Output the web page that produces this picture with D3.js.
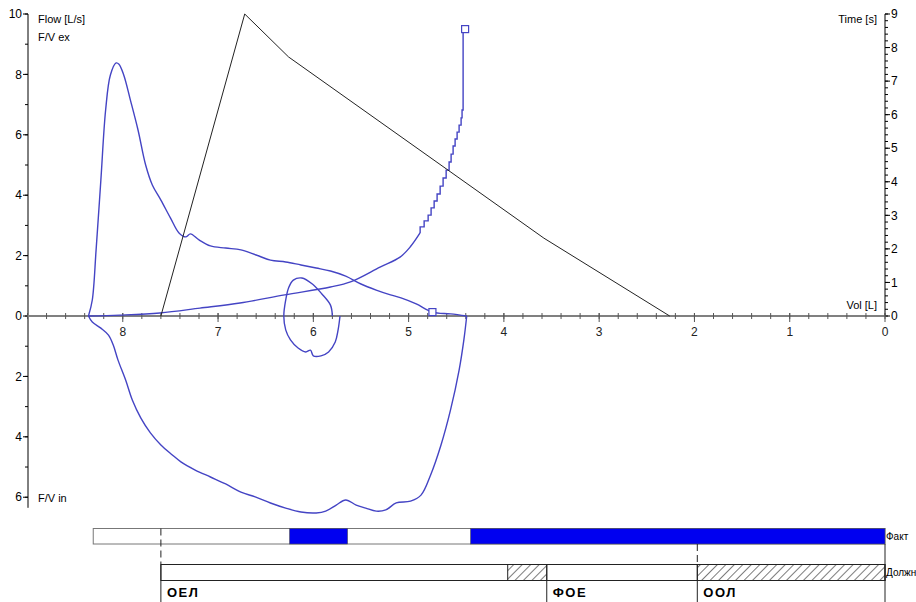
<!DOCTYPE html>
<html><head><meta charset="utf-8">
<script src="https://cdn.jsdelivr.net/npm/d3@7"></script>
<style>
html,body{margin:0;padding:0;background:#fff;}
svg{display:block;}
text{font-family:"Liberation Sans",Arial,sans-serif;}
</style></head>
<body>
<script>
// ---------- data (volume in L, flow in L/s, time in s) ----------
const expVol  = [8.36,8.32,8.28,8.23,8.18,8.13,8.07,8.04,7.99,7.92,7.84,7.76,7.69,7.60,7.50,7.41,7.34,7.29,7.20,7.08,6.92,6.76,6.60,6.45,6.29,6.13,5.97,5.82,5.66,5.50,5.34,5.19,5.08,4.92,4.75,4.56,4.39];
const expFlow = [0.00,0.53,2.19,4.50,6.82,7.98,8.38,8.34,7.98,7.15,6.16,5.00,4.34,3.84,3.25,2.75,2.62,2.72,2.52,2.32,2.25,2.19,2.02,1.85,1.79,1.69,1.59,1.49,1.32,1.06,0.86,0.70,0.60,0.40,0.13,0.07,0.00];

const inspVol  = [8.36,8.32,8.23,8.15,8.10,8.05,7.97,7.90,7.81,7.71,7.60,7.48,7.39,7.24,7.08,6.92,6.76,6.61,6.45,6.29,6.13,5.97,5.87,5.76,5.66,5.55,5.45,5.34,5.24,5.13,4.98,4.87,4.77,4.66,4.56,4.47,4.42,4.39];
const inspFlow = [0.00,-0.20,-0.40,-0.63,-0.96,-1.46,-2.12,-2.78,-3.38,-3.87,-4.27,-4.60,-4.83,-5.10,-5.33,-5.56,-5.83,-5.99,-6.19,-6.36,-6.49,-6.52,-6.46,-6.26,-6.09,-6.26,-6.36,-6.46,-6.42,-6.19,-6.13,-5.93,-5.27,-4.27,-3.11,-1.79,-0.79,0.00];

const loopVol  = [5.80,5.82,5.91,6.01,6.12,6.21,6.26,6.29,6.31,6.29,6.24,6.16,6.08,6.03,6.00,5.92,5.84,5.77,5.74,5.72];
const loopFlow = [0.00,0.36,0.73,1.06,1.26,1.19,0.93,0.53,0.00,-0.46,-0.79,-1.06,-1.19,-1.13,-1.32,-1.32,-1.19,-0.86,-0.46,0.00];

// smooth rising part of the extrapolation curve
const vtVol  = [8.36,8.03,7.61,7.19,6.77,6.30,5.82,5.61,5.30,5.09,4.98,4.88];
const vtFlow = [0.00,0.03,0.10,0.26,0.43,0.70,0.96,1.13,1.62,1.95,2.30,2.75];
// stepped steep part
const stVol  = [4.879,4.837,4.795,4.764,4.732,4.701,4.669,4.638,4.606,4.575,4.554,4.533,4.512,4.491,4.470,4.449,4.439,4.428,4.407];
const stFlow = [2.75,2.95,3.15,3.34,3.58,3.81,4.04,4.30,4.57,4.83,5.10,5.36,5.63,5.86,6.09,6.32,6.56,6.82,9.50];

const markVol  = [4.407, 4.75];
const markFlow = [9.50, 0.13];

const timeVol  = [7.60, 6.72, 6.26, 3.58, 2.26];
const timeSec  = [0.00, 9.00, 7.72, 2.32, 0.00];

const volTicks  = [0,1,2,3,4,5,6,7,8];
const flowTicks = [10,8,6,4,2,0,-2,-4,-6];
const timeTicks = [0,1,2,3,4,5,6,7,8,9];

const factRange = [8.31, 0];
const factOver  = [[6.25,5.64],[4.35,0]];
const dueRange  = [7.60, 0];
const dueHatch  = [[3.96,3.55],[1.97,0]];
const markNames = ["ОЕЛ","ФОЕ","ООЛ"];
const markAt    = [7.60, 3.55, 1.97];
const rowNames  = ["Факт","Должн"];

// ---------- drawing ----------
const W = 916, H = 602;
const svg = d3.select("body").append("svg").attr("width", W).attr("height", H);
const defs = svg.append("defs");
const pat = defs.append("pattern").attr("id","hatch").attr("patternUnits","userSpaceOnUse")
  .attr("width",6).attr("height",6).attr("patternTransform","rotate(45)");
pat.append("line").attr("x1",0).attr("y1",0).attr("x2",0).attr("y2",6).attr("stroke","#222").attr("stroke-width",1.2);

const x = d3.scaleLinear().domain([9,0]).range([27.5,885]);
const y = d3.scaleLinear().domain([10,-6.35]).range([14,507.8]);
const yt = d3.scaleLinear().domain([0,9]).range([316,14]);

// left axis
const gL = svg.append("g").attr("transform","translate(28,0)");
gL.append("line").attr("y1",y(10)).attr("y2",y(-6.35)).attr("stroke","#000");
gL.selectAll(".mi").data(d3.range(-6,11,1)).join("line")
  .attr("x1",-3).attr("x2",0).attr("y1",d=>y(d)).attr("y2",d=>y(d)).attr("stroke","#000");
gL.selectAll(".ma").data(flowTicks).join("line")
  .attr("x1",-5).attr("x2",0).attr("y1",d=>y(d)).attr("y2",d=>y(d)).attr("stroke","#000");
gL.selectAll("text").data(flowTicks).join("text")
  .attr("x",-6).attr("y",d=>y(d)).attr("dy","0.35em").attr("text-anchor","end")
  .attr("font-size",12).text(d=>Math.abs(d));

// right axis
const gR = svg.append("g").attr("transform","translate(885,0)");
gR.append("line").attr("y1",yt(0)).attr("y2",yt(9)).attr("stroke","#000");
gR.selectAll(".mi").data(d3.range(0,9.01,0.2)).join("line")
  .attr("x1",0).attr("x2",3).attr("y1",d=>yt(d)).attr("y2",d=>yt(d)).attr("stroke","#000");
gR.selectAll(".ma").data(timeTicks).join("line")
  .attr("x1",0).attr("x2",5).attr("y1",d=>yt(d)).attr("y2",d=>yt(d)).attr("stroke","#000");
gR.selectAll("text").data(timeTicks).join("text")
  .attr("x",6).attr("y",d=>yt(d)).attr("dy","0.35em").attr("font-size",12).text(d=>d);

// x axis
const gX = svg.append("g").attr("transform",`translate(0,${y(0)})`);
gX.append("line").attr("x1",x(9)).attr("x2",x(0)).attr("stroke","#808080").attr("stroke-width",2);
gX.selectAll(".mi").data(d3.range(0,9.01,0.2)).join("line")
  .attr("x1",d=>x(d)).attr("x2",d=>x(d)).attr("y1",-3).attr("y2",3).attr("stroke","#555");
gX.selectAll(".ma").data(volTicks).join("line")
  .attr("x1",d=>x(d)).attr("x2",d=>x(d)).attr("y1",-3).attr("y2",6).attr("stroke","#555");
gX.selectAll("text").data(volTicks).join("text")
  .attr("x",d=>x(d)).attr("y",20).attr("text-anchor","middle").attr("font-size",12).attr("fill","#222").text(d=>d);

// axis titles
const tsz = 11;
svg.append("text").attr("x",38).attr("y",23).attr("font-size",tsz).text("Flow [L/s]");
svg.append("text").attr("x",38).attr("y",41).attr("font-size",tsz).text("F/V ex");
svg.append("text").attr("x",38).attr("y",502).attr("font-size",tsz).text("F/V in");
svg.append("text").attr("x",877).attr("y",23).attr("font-size",tsz).attr("text-anchor","end").text("Time [s]");
svg.append("text").attr("x",877).attr("y",309).attr("font-size",tsz).attr("text-anchor","end").text("Vol [L]");

// curves
const blue = "#4444c4";
const zip = (a,b)=>a.map((v,i)=>[v,b[i]]);
const line = d3.line().x(d=>x(d[0])).y(d=>y(d[1])).curve(d3.curveCatmullRom.alpha(0.5));
const stepLine = d3.line().x(d=>x(d[0])).y(d=>y(d[1])).curve(d3.curveStepBefore);
[zip(expVol,expFlow), zip(inspVol,inspFlow), zip(loopVol,loopFlow), zip(vtVol,vtFlow)].forEach(p=>{
  svg.append("path").attr("d",line(p)).attr("fill","none").attr("stroke",blue).attr("stroke-width",1.4);
});
svg.append("path").attr("d",stepLine(zip(stVol,stFlow))).attr("fill","none").attr("stroke",blue).attr("stroke-width",1.4);
svg.selectAll(".mk").data(zip(markVol,markFlow)).join("rect")
  .attr("x",d=>x(d[0])-3.5).attr("y",d=>y(d[1])-3.5).attr("width",7).attr("height",7)
  .attr("fill","#fff").attr("stroke",blue).attr("stroke-width",1.2);

// time-volume line
const tline = d3.line().x(d=>x(d[0])).y(d=>yt(d[1]));
svg.append("path").attr("d",tline(zip(timeVol,timeSec))).attr("fill","none").attr("stroke","#222").attr("stroke-width",1);

// ---------- bottom bars ----------
const r1y = 528.5, r1h = 15.5, r2y = 564.5, r2h = 16;
svg.append("rect").attr("x",x(factRange[0])).attr("y",r1y).attr("width",x(factRange[1])-x(factRange[0])).attr("height",r1h)
  .attr("fill","#fff").attr("stroke","#777");
svg.selectAll(".fo").data(factOver).join("rect")
  .attr("x",d=>x(d[0])).attr("y",r1y).attr("width",d=>x(d[1])-x(d[0])).attr("height",r1h)
  .attr("fill","#0000f0").attr("stroke","#555").attr("stroke-width",0.6);
svg.append("rect").attr("x",x(dueRange[0])).attr("y",r2y).attr("width",x(dueRange[1])-x(dueRange[0])).attr("height",r2h)
  .attr("fill","#fff").attr("stroke","#222");
svg.selectAll(".dh").data(dueHatch).join("rect")
  .attr("x",d=>x(d[0])).attr("y",r2y).attr("width",d=>x(d[1])-x(d[0])).attr("height",r2h)
  .attr("fill","url(#hatch)").attr("stroke","#222");

// dashed guides and solid markers
[markAt[0], markAt[2]].forEach(v=>{
  svg.append("line").attr("x1",x(v)).attr("x2",x(v)).attr("y1",r1y+(v===markAt[0]?0:r1h)).attr("y2",r2y)
    .attr("stroke","#222").attr("stroke-dasharray","7,4");
});
markAt.forEach(v=>{
  svg.append("line").attr("x1",x(v)).attr("x2",x(v)).attr("y1",r2y).attr("y2",H).attr("stroke","#222");
});
svg.append("line").attr("x1",x(0)).attr("x2",x(0)).attr("y1",r1y+r1h).attr("y2",H).attr("stroke","#222");

svg.selectAll(".mn").data(markNames).join("text")
  .attr("x",(d,i)=>x(markAt[i])+6).attr("y",597).attr("font-family","DejaVu Sans, sans-serif")
  .attr("font-weight","bold").attr("font-size",13).attr("letter-spacing",1.5).text(d=>d);
svg.append("text").attr("x",886).attr("y",r1y+r1h/2).attr("dy","0.35em").attr("font-size",10).text(rowNames[0]);
svg.append("text").attr("x",886).attr("y",r2y+r2h/2).attr("dy","0.35em").attr("font-size",10).text(rowNames[1]);
</script>
</body></html>
